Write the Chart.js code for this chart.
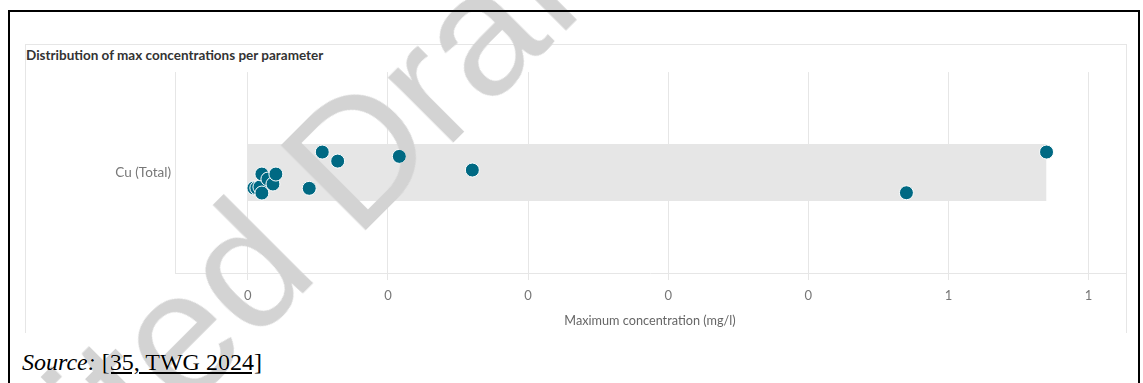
<!DOCTYPE html>
<html>
<head>
<meta charset="utf-8">
<script src="https://cdn.jsdelivr.net/npm/chart.js@4.4.1/dist/chart.umd.min.js"></script>
<style>
  html, body { margin: 0; padding: 0; background: #fff; width: 1143px; height: 383px; overflow: hidden; }
  #frame { position: absolute; left: 8px; top: 10px; width: 1128px; height: 420px; border: 2px solid #000; border-bottom: none; }
  #panel { position: absolute; left: 25px; top: 44px; width: 1100px; height: 288px; border: 1px solid #e6e6e6; border-bottom: none; }
  #title { position: absolute; left: 26px; top: 47px; font: bold 13.5px Lato, sans-serif; color: #333; white-space: nowrap; line-height: 1.2; }
  #wrap { position: absolute; left: 26px; top: 60px; width: 1107px; height: 272px; }
  #source { position: absolute; left: 22px; top: 350px; font: 24px "Liberation Serif", serif; line-height: 1; color: #000; white-space: nowrap; }
  #source i { font-style: italic; }
  #source u { text-decoration: underline; }
  #watermark {
    position: absolute; left: -279px; top: 809px;
    font: 175px "Liberation Sans", Arial, sans-serif; color: #d3d3d3;
    white-space: nowrap; line-height: 1;
    transform-origin: 0 0; transform: translateY(-0.82em) rotate(-45deg);
    mix-blend-mode: darken; pointer-events: none;
  }
</style>
</head>
<body>
<div id="frame"></div>
<div id="panel"></div>
<div id="title">Distribution of max concentrations per parameter</div>
<div id="wrap"><canvas id="maxChart"></canvas></div>
<div id="source"><i>Source:</i> <u>[35, TWG 2024]</u></div>
<div id="watermark">Unedited Draft</div>
<script>
// values
const category = 'Cu (Total)';
const maxValues = [0.0043, 0.0064, 0.0086, 0.0100, 0.0100, 0.0143, 0.0179, 0.0200,
                   0.0438, 0.0531, 0.0641, 0.1081, 0.1602, 0.4700, 0.5700];
// vertical jitter inside the category band
const jitter = [-0.154, -0.154, -0.144, -0.204, -0.015, -0.065, -0.114, -0.015,
                -0.157, 0.204, 0.114, 0.161, 0.025, -0.201, 0.204];
const xTicks = [0, 0.1, 0.2, 0.3, 0.4, 0.5, 0.6];
const bandRange = [0, 0.57];

const bandHalf = 0.284;
const pointColor = '#006983';
const gridColor = '#e6e6e6';

function initChart() {
    const ctx = document.getElementById('maxChart');
    const points = maxValues.map((v, i) => ({ x: v, y: jitter[i] }));
    const band = bandRange.map(v => ({ x: v, y: bandHalf }));

    return new Chart(ctx, {
        type: 'scatter',
        data: {
            datasets: [
                {
                    label: 'values',
                    data: points,
                    backgroundColor: pointColor,
                    borderColor: '#ffffff',
                    borderWidth: 1,
                    pointRadius: 7,
                    order: 1
                },
                {
                    label: 'range',
                    type: 'line',
                    data: band,
                    showLine: true,
                    borderWidth: 0,
                    borderColor: 'rgba(0,0,0,0)',
                    pointRadius: 0,
                    fill: { value: -bandHalf },
                    backgroundColor: '#e6e6e6',
                    order: 2
                }
            ]
        },
        options: {
            responsive: true,
            maintainAspectRatio: false,
            animation: false,
            layout: { padding: { top: 12, right: 0, left: 0, bottom: 0 } },
            plugins: {
                legend: { display: false },
                tooltip: { enabled: false },
                filler: { propagate: false }
            },
            scales: {
                x: {
                    type: 'linear',
                    min: -0.052,
                    max: 0.626,
                    afterBuildTicks: (scale) => { scale.ticks = xTicks.map(v => ({ value: v })); },
                    afterFit: (scale) => { scale.height = 59; },
                    grid: { color: gridColor, tickColor: gridColor, tickLength: 7, drawTicks: true },
                    border: { display: true, color: gridColor },
                    ticks: {
                        color: '#777',
                        font: { family: 'Lato', size: 13 },
                        padding: 8,
                        maxRotation: 0,
                        callback: (value) => Math.round(value).toString()
                    },
                    title: {
                        display: true,
                        text: 'Maximum concentration (mg/l)',
                        color: '#666',
                        font: { family: 'Lato', size: 12.7 },
                        padding: { top: 0, bottom: 3 }
                    }
                },
                y: {
                    type: 'linear',
                    min: -1,
                    max: 1,
                    afterBuildTicks: (scale) => { scale.ticks = [{ value: 0 }]; },
                    afterFit: (scale) => { scale.width = 149; },
                    grid: { display: false, drawTicks: false, tickLength: 0 },
                    border: { display: true, color: gridColor },
                    ticks: {
                        color: '#777',
                        font: { family: 'Lato', size: 13.5 },
                        padding: 4,
                        callback: () => category
                    }
                }
            }
        }
    });
}

var g_chart = initChart();
</script>
</body>
</html>
